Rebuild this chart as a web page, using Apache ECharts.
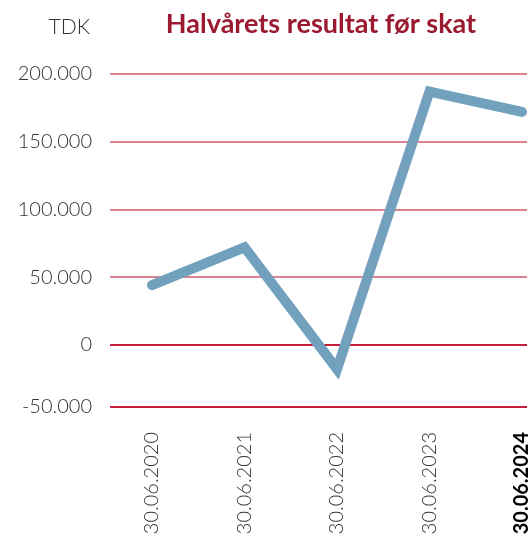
<!DOCTYPE html>
<html>
<head>
<meta charset="utf-8">
<script src="https://cdn.jsdelivr.net/npm/echarts@6/dist/echarts.min.js"></script>
<style>
  html, body { margin: 0; padding: 0; background: #fff; }
  #chart { width: 532px; height: 538px; }
</style>
</head>
<body>
<div id="chart"></div>
<script>
// data
var categories = ['30.06.2020', '30.06.2021', '30.06.2022', '30.06.2023', '30.06.2024'];
var values = [44000, 72000, -18000, 187000, 172000];
var yTicks = [-50000, 0, 50000, 100000, 150000, 200000];
var yMin = -46000;   // nederste linje ligger lidt over -50.000
var yMax = 200000;

var chart = echarts.init(document.getElementById('chart'));

function fmt(v) {
    // dansk tusindtalsseparator
    var s = String(Math.abs(v)).replace(/\B(?=(\d{3})+(?!\d))/g, '.');
    return (v < 0 ? '-' : '') + s;
}

var tickPos = yTicks.map(function (v) { return Math.max(v, yMin); });

var option = {
    animation: false,
    title: [{
        text: 'Halvårets resultat før skat',
        left: 316,
        top: 6,
        textAlign: 'center',
        textStyle: { color: '#9b1a2f', fontFamily: 'Lato', fontWeight: 'bold', fontSize: 27 }
    }, {
        text: 'TDK',
        left: 85,
        top: 12,
        textAlign: 'right',
        textStyle: { color: '#333', fontFamily: 'Lato', fontWeight: 300, fontSize: 21 }
    }],
    grid: [
        { left: 110, right: 5, top: 74, bottom: 131 },
        { left: 152, right: 9, top: 74, bottom: 131 }
    ],
    xAxis: [{
        gridIndex: 0, type: 'value', show: false, min: 0, max: 1
    }, {
        gridIndex: 1,
        type: 'category',
        data: categories,
        boundaryGap: false,
        axisLine: { show: false },
        axisTick: { show: false },
        axisLabel: {
            rotate: 90,
            margin: 25,
            fontFamily: 'Lato',
            fontSize: 20,
            fontWeight: 300,
            color: '#333',
            formatter: function (v, i) {
                return i === categories.length - 1 ? '{b|' + v + '}' : v;
            },
            rich: { b: { fontFamily: 'Lato', fontSize: 20, fontWeight: 'bold', color: '#000' } }
        }
    }],
    yAxis: [{
        gridIndex: 0,
        type: 'value',
        min: yMin,
        max: yMax,
        axisLine: { show: false },
        axisTick: { show: false, customValues: tickPos },
        axisLabel: {
            customValues: tickPos,
            margin: 18,
            fontFamily: 'Lato',
            fontSize: 20,
            fontWeight: 300,
            color: '#333',
            formatter: function (v) {
                return fmt(v <= yMin ? yTicks[0] : v);
            }
        },
        splitLine: {
            lineStyle: {
                width: 2,
                color: ['#c41e3a', '#c41e3a', '#da8391', '#da8391', '#da8391', '#da8391']
            }
        }
    }, {
        gridIndex: 1,
        type: 'value',
        min: yMin,
        max: yMax,
        show: false,
        splitLine: { show: false }
    }],
    series: [{
        type: 'line',
        xAxisIndex: 1,
        yAxisIndex: 1,
        data: values,
        symbol: 'none',
        lineStyle: { color: '#72a1be', width: 10, cap: 'round', join: 'miter' }
    }]
};
chart.setOption(option);
</script>
</body>
</html>
